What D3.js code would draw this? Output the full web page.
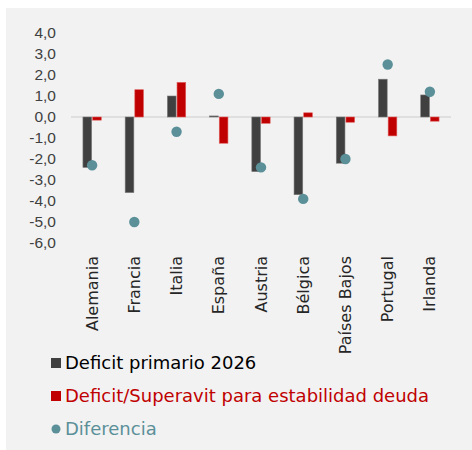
<!DOCTYPE html>
<html>
<head>
<meta charset="utf-8">
<script src="https://cdn.jsdelivr.net/npm/d3@7"></script>
<style>
  body { margin: 0; background: #fff; }
  svg { display: block; font-family: "DejaVu Sans", sans-serif; }
</style>
</head>
<body>
<div id="chart"></div>
<script>
const width = 472,
      height = 450;

const countries = ["Alemania", "Francia", "Italia", "España", "Austria",
                   "Bélgica", "Países Bajos", "Portugal", "Irlanda"];

// Deficit primario 2026
const deficitPrimario = [-2.4, -3.6, 1.0, 0.05, -2.6, -3.7, -2.2, 1.8, 1.05];
// Deficit/Superavit para estabilidad deuda
const estabilidadDeuda = [-0.15, 1.3, 1.65, -1.25, -0.3, 0.2, -0.25, -0.9, -0.2];
// Diferencia
const diferencia = [-2.3, -5.0, -0.7, 1.1, -2.4, -3.9, -2.0, 2.5, 1.2];

const yTicks = [4, 3, 2, 1, 0, -1, -2, -3, -4, -5, -6];

const seriesNames = ["Deficit primario 2026", "Deficit/Superavit para estabilidad deuda", "Diferencia"];
const seriesColors = ["#404040", "#c00000", "#5b9099"];

const rows = countries.map((c, i) => ({
  name: c,
  bars: [deficitPrimario[i], estabilidadDeuda[i]],
  dot: diferencia[i]
}));

const svg = d3.select("#chart")
  .append("svg")
    .attr("width", width)
    .attr("height", height);

svg.append("rect")
    .attr("x", 6)
    .attr("y", 8)
    .attr("width", 466)
    .attr("height", 442)
    .attr("fill", "#f2f2f2");

const x0 = d3.scaleBand()
    .domain(countries)
    .range([71, 451])
    .paddingInner(0.52)
    .paddingOuter(0.26);

const x1 = d3.scaleBand()
    .domain([0, 1])
    .range([0, x0.bandwidth()])
    .padding(0.1);

const y = d3.scaleLinear()
    .domain([-6, 4])
    .range([243, 33]);

// y axis labels
const yAxis = svg.append("g")
    .attr("transform", "translate(56,0)")
    .call(d3.axisLeft(y)
      .tickValues(yTicks)
      .tickSize(0)
      .tickPadding(0)
      .tickFormat(d => d3.format(".1f")(d).replace(".", ",").replace("−", "-")));

yAxis.select(".domain").remove();
yAxis.selectAll("text")
    .attr("fill", "#404040")
    .style("font-size", "15.5px");

// zero line
svg.append("line")
    .attr("x1", 71)
    .attr("x2", 451)
    .attr("y1", y(0))
    .attr("y2", y(0))
    .attr("stroke", "#d9d9d9")
    .attr("stroke-width", 1.5);

const groups = svg.append("g")
  .selectAll("g")
  .data(rows)
  .enter()
  .append("g")
    .attr("transform", d => `translate(${x0(d.name)},0)`);

groups.selectAll("rect")
  .data(d => d.bars)
  .enter()
  .append("rect")
    .attr("x", (d, i) => x1(i))
    .attr("width", x1.bandwidth())
    .attr("y", d => y(Math.max(0, d)))
    .attr("height", d => Math.abs(y(d) - y(0)))
    .attr("fill", (d, i) => seriesColors[i])
    .attr("stroke", (d, i) => i === 0 ? "#7a7a7a" : "#e06060")
    .attr("stroke-width", 0.6);

groups.append("circle")
    .attr("cx", x0.bandwidth() / 2)
    .attr("cy", d => y(d.dot))
    .attr("r", 5.2)
    .attr("fill", seriesColors[2]);

// category labels
svg.append("g")
  .selectAll("text")
  .data(countries)
  .enter()
  .append("text")
    .attr("transform", d => `translate(${x0(d) + x0.bandwidth() / 2},256) rotate(-90)`)
    .attr("text-anchor", "end")
    .attr("dy", "0.35em")
    .attr("fill", "#262626")
    .style("font-size", "16px")
    .text(d => d);

// legend
const legend = svg.append("g")
  .selectAll("g")
  .data(seriesNames)
  .enter()
  .append("g")
    .attr("transform", (d, i) => `translate(51,${363 + i * 33})`);

legend.filter((d, i) => i < 2)
  .append("rect")
    .attr("x", 0)
    .attr("y", -5)
    .attr("width", 10)
    .attr("height", 10)
    .attr("fill", (d, i) => seriesColors[i]);

legend.filter((d, i) => i === 2)
  .append("circle")
    .attr("cx", 5)
    .attr("cy", 0)
    .attr("r", 4.5)
    .attr("fill", seriesColors[2]);

legend.append("text")
    .attr("x", 14)
    .attr("dy", "0.36em")
    .attr("fill", (d, i) => i === 0 ? "#000" : seriesColors[i])
    .style("font-size", "18px")
    .text(d => d);
</script>
</body>
</html>
